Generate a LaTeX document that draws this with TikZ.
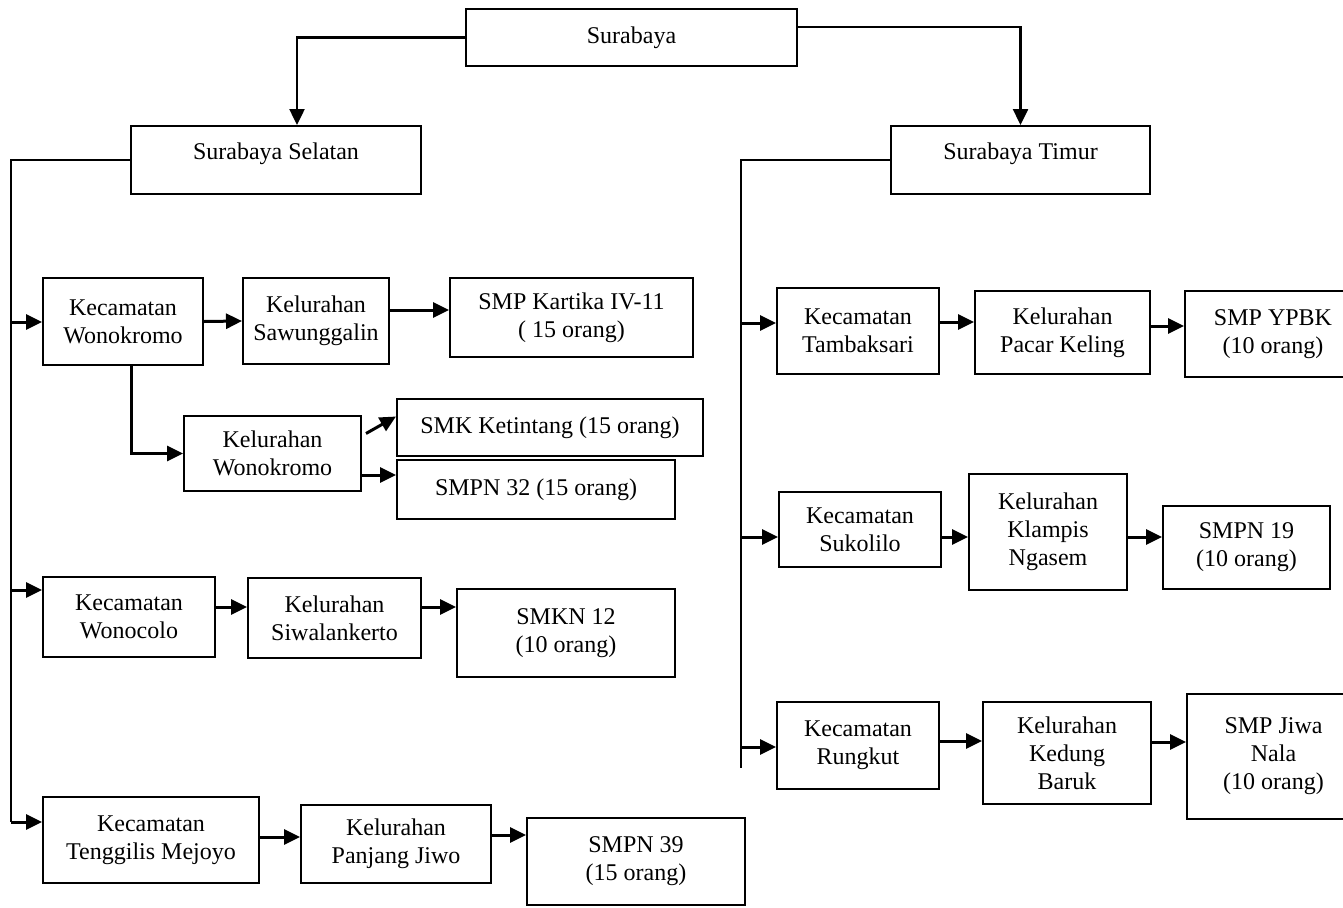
\documentclass[tikz,border=0pt]{standalone}
\usepackage{fontspec}
\setmainfont{Liberation Serif}
\usetikzlibrary{shapes,arrows.meta}

\begin{document}
\begin{tikzpicture}[x=1pt, y=-1pt, font=\fontsize{24}{28}\selectfont, line width=2pt, >={Triangle[length=16pt,width=15pt]}]
		\tikzstyle{every node}=[draw, line width=2pt, align=center, inner sep=0pt];
		\tikzstyle{panah}=[->, line width=3pt];
		\useasboundingbox (0,0) rectangle (1343,907);

		\node[minimum width=331, minimum height=57] (sby) at (631.5,37.5) {Surabaya};
		\node[minimum width=290, minimum height=68, text depth=17pt] (sel) at (276,160) {Surabaya Selatan};
		\node[minimum width=259, minimum height=68, text depth=17pt] (tim) at (1020.5,160) {Surabaya Timur};

		% Surabaya Selatan
		\node[minimum width=160, minimum height=87] (kWonokromo) at (123,321.5) {Kecamatan\\Wonokromo};
		\node[minimum width=146, minimum height=86] (lSawunggalin) at (316,321) {Kelurahan\\Sawunggalin};
		\node[minimum width=243, minimum height=79] (sKartika) at (571.5,317.5) {SMP Kartika IV-11\\( 15 orang)};
		\node[minimum width=177, minimum height=75] (lWonokromo) at (272.5,453.5) {Kelurahan\\Wonokromo};
		\node[minimum width=306, minimum height=57] (sKetintang) at (550,427.5) {SMK Ketintang (15 orang)};
		\node[minimum width=278, minimum height=59] (sSMPN32) at (536,489.5) {SMPN 32 (15 orang)};
		\node[minimum width=172, minimum height=80] (kWonocolo) at (129,617) {Kecamatan\\Wonocolo};
		\node[minimum width=173, minimum height=80] (lSiwalankerto) at (334.5,618) {Kelurahan\\Siwalankerto};
		\node[minimum width=218, minimum height=88] (sSMKN12) at (566,633) {SMKN 12\\(10 orang)};
		\node[minimum width=216, minimum height=86] (kTenggilis) at (151,840) {Kecamatan\\Tenggilis Mejoyo};
		\node[minimum width=190, minimum height=78] (lPanjangJiwo) at (396,844) {Kelurahan\\Panjang Jiwo};
		\node[minimum width=218, minimum height=87] (sSMPN39) at (636,861.5) {SMPN 39\\(15 orang)};

		% Surabaya Timur
		\node[minimum width=162, minimum height=86] (kTambaksari) at (858,331) {Kecamatan\\Tambaksari};
		\node[minimum width=175, minimum height=83] (lPacarKeling) at (1062.5,332.5) {Kelurahan\\Pacar Keling};
		\node[minimum width=176, minimum height=86] (sYPBK) at (1273,334) {SMP YPBK\\(10 orang)};
		\node[minimum width=162, minimum height=75] (kSukolilo) at (860,529.5) {Kecamatan\\Sukolilo};
		\node[minimum width=158, minimum height=116] (lKlampis) at (1048,532) {Kelurahan\\Klampis\\Ngasem};
		\node[minimum width=167, minimum height=83] (sSMPN19) at (1246.5,547.5) {SMPN 19\\(10 orang)};
		\node[minimum width=162, minimum height=87] (kRungkut) at (858,745.5) {Kecamatan\\Rungkut};
		\node[minimum width=168, minimum height=102] (lKedungBaruk) at (1067,753) {Kelurahan\\Kedung\\Baruk};
		\node[minimum width=173, minimum height=125] (sJiwaNala) at (1273.5,756.5) {SMP Jiwa\\Nala\\(10 orang)};

		\coordinate (spL) at (11,822);
		\coordinate (bL1) at (11,322);
		\coordinate (bL2) at (11,590);
		\coordinate (spR) at (741,768);
		\coordinate (bR1) at (741,323);
		\coordinate (bR2) at (741,537);
		\coordinate (bR3) at (741,747);

		\draw[->, line width=2.5pt] (sby.west) -| (sel.north -| 297,0);
		\draw[->, line width=2.5pt] (sby.east |- 0,27) -| (tim.north);

		\draw (sel.west) -| (spL);
		\draw[panah] (bL1) -- (bL1 -| kWonokromo.west);
		\draw[panah] (kWonokromo.east) -- (lSawunggalin.west);
		\draw[panah] (lSawunggalin.east |- 0,310) -- (sKartika.west |- 0,310);
		\draw[panah] ([xshift=8pt]kWonokromo.south) |- (lWonokromo.west);
		\draw[panah] ([xshift=4pt,yshift=20pt]lWonokromo.east) -- ([yshift=11pt]sKetintang.west);
		\draw[panah] (lWonokromo.east |- 0,475) -- (sSMPN32.west |- 0,475);
		\draw[panah] (bL2) -- (bL2 -| kWonocolo.west);
		\draw[panah] (kWonocolo.east |- 0,607) -- (lSiwalankerto.west |- 0,607);
		\draw[panah] (lSiwalankerto.east |- 0,607) -- (sSMKN12.west |- 0,607);
		\draw[panah] (spL) -- (spL -| kTenggilis.west);
		\draw[panah] (kTenggilis.east |- 0,837) -- (lPanjangJiwo.west |- 0,837);
		\draw[panah] (lPanjangJiwo.east |- 0,835) -- (sSMPN39.west |- 0,835);

		\draw (tim.west) -| (spR);
		\draw[panah] (bR1) -- (bR1 -| kTambaksari.west);
		\draw[panah] (kTambaksari.east |- 0,322) -- (lPacarKeling.west |- 0,322);
		\draw[panah] (lPacarKeling.east |- 0,326) -- (sYPBK.west |- 0,326);
		\draw[panah] (bR2) -- (bR2 -| kSukolilo.west);
		\draw[panah] (kSukolilo.east |- 0,537) -- (lKlampis.west |- 0,537);
		\draw[panah] (lKlampis.east |- 0,537) -- (sSMPN19.west |- 0,537);
		\draw[panah] (bR3) -- (bR3 -| kRungkut.west);
		\draw[panah] (kRungkut.east |- 0,741) -- (lKedungBaruk.west |- 0,741);
		\draw[panah] (lKedungBaruk.east |- 0,742) -- (sJiwaNala.west |- 0,742);
	\end{tikzpicture}
\end{document}
